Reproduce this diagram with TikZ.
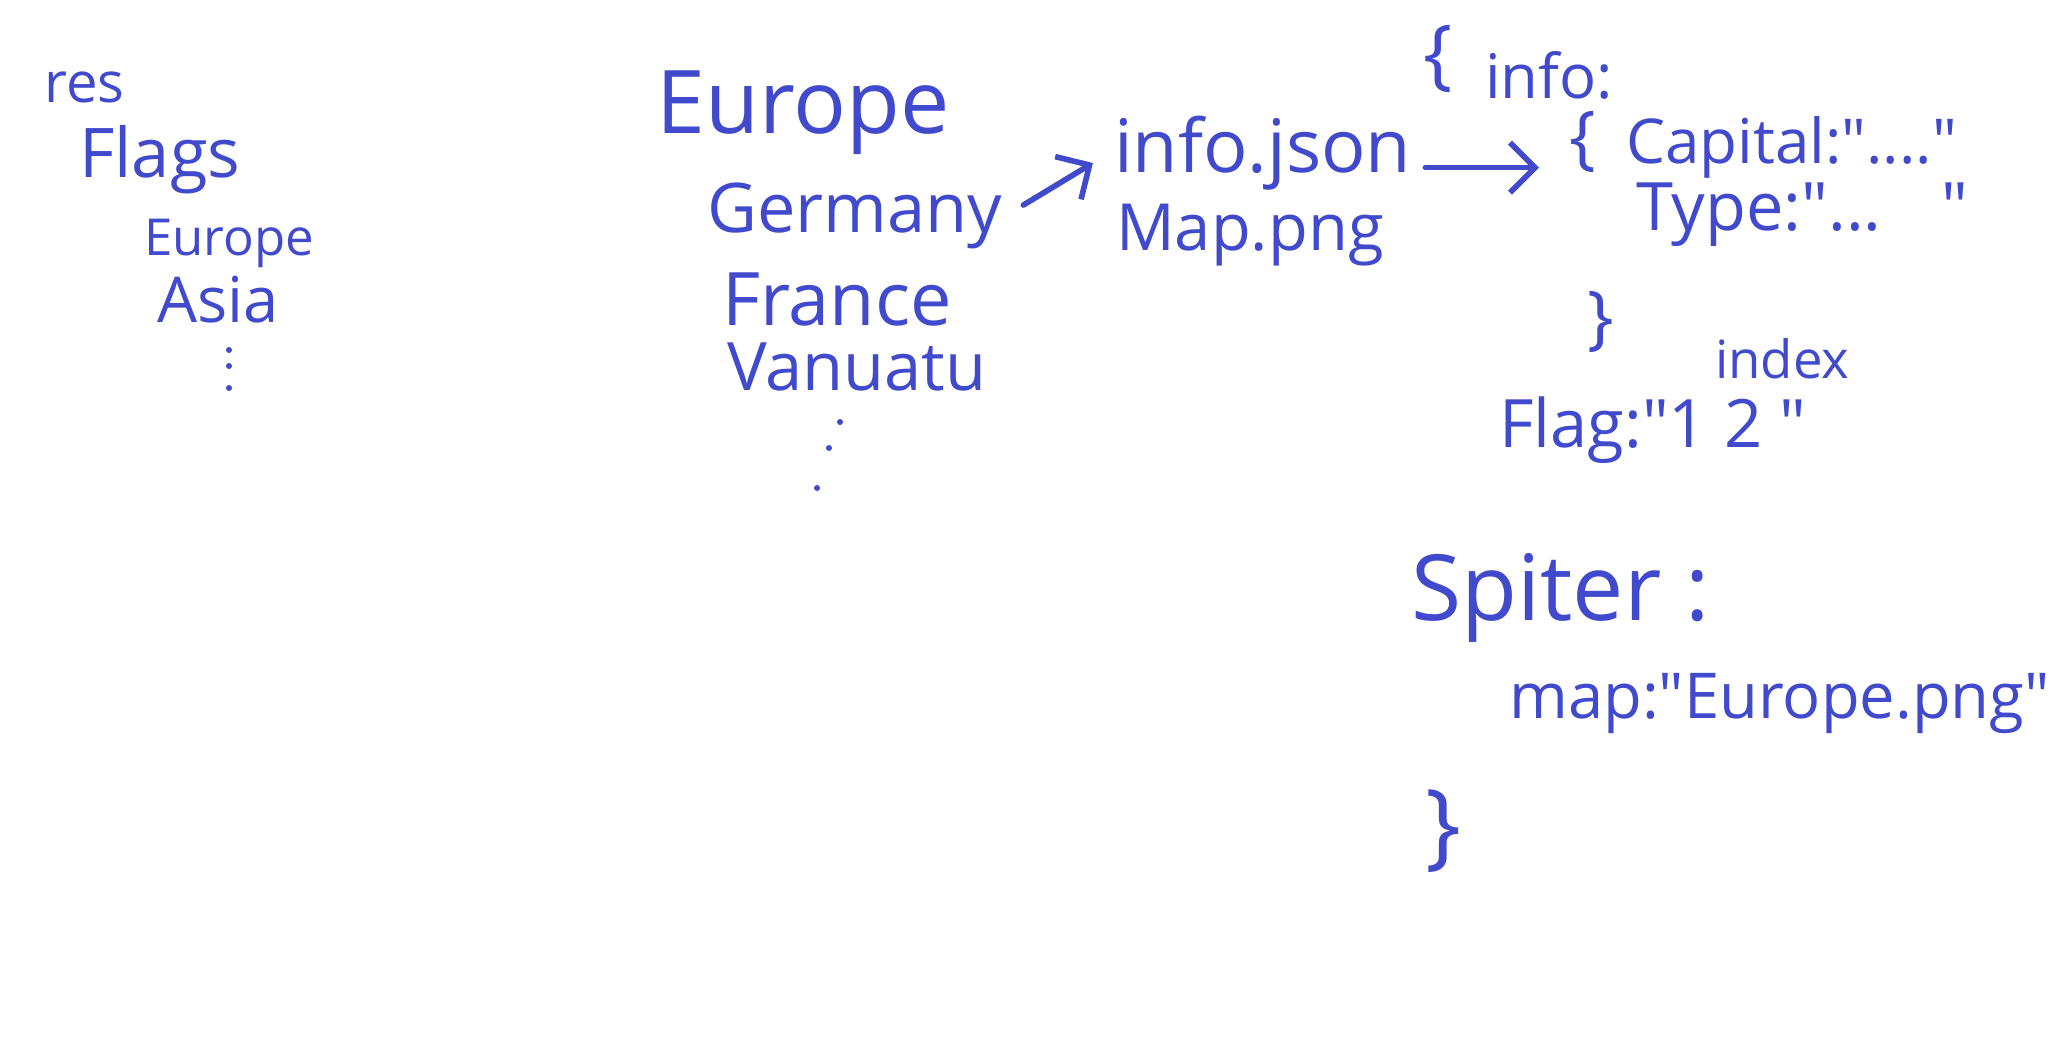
\documentclass[tikz,border=0pt]{standalone}
\usepackage{fontspec}
\setmainfont{Open Sans}[Ligatures=TeXOff]
\usepackage{tikz}
\usetikzlibrary{arrows.meta}
\definecolor{inkblue}{RGB}{65, 74, 205}
\newcommand{\handsize}[1]{\fontsize{#1}{#1}\selectfont}
\tikzset{
  hand/.style={text=inkblue, inner sep=1pt, anchor=base west},
  brace/.style={text=inkblue, inner sep=0pt},
  inkarrow/.style={draw=inkblue, line width=1.6pt, line cap=round, -{Straight Barb[length=2.5mm, width=5mm]}}
}

\begin{document}
\begin{tikzpicture}
  \useasboundingbox (0,0) rectangle (20.56,-10.42);

  % Folder tree
  \node[hand, font=\handsize{16}] (res) at (0.40,-1.02) {res};
  \node[hand, font=\handsize{19.5}] (flags) at (0.75,-1.77) {Flags};
  \node[hand, font=\handsize{14.5}] (flagseurope) at (1.40,-2.55) {Europe};
  \node[hand, font=\handsize{18}] (flagsasia) at (1.53,-3.22) {Asia};
  \foreach \y in {3.50,3.66,3.88} \fill[inkblue] (2.29,-\y) circle (0.03);

  % Continent folder
  \node[hand, font=\handsize{25}] (europe) at (6.52,-1.33) {Europe};
  \node[hand, font=\handsize{19.5}] (germany) at (7.03,-2.32) {Germany};
  \node[hand, font=\handsize{21}] (france) at (7.18,-3.25) {France};
  \node[hand, font=\handsize{19}] (vanuatu) at (7.23,-3.90) {Vanuatu};
  \fill[inkblue] (8.40,-4.22) circle (0.03);
  \fill[inkblue] (8.29,-4.48) circle (0.03);
  \fill[inkblue] (8.17,-4.88) circle (0.03);

  % Country folder
  \node[hand, font=\handsize{21}] (infojson) at (11.10,-1.72) {info.json};
  \node[hand, font=\handsize{18.5}] (mappng) at (11.12,-2.50) {Map.png};
  \draw[inkarrow, shorten <=2mm, shorten >=2mm] (germany.east) -- (infojson.west);

  % Content of info.json
  \node[brace, font=\handsize{22}] (openinfo) at (14.38,-0.59) {\{};
  \node[hand, font=\handsize{17.5}] (info) at (14.81,-0.98) {info:};
  \node[brace, font=\handsize{20}] (opencap) at (15.83,-1.42) {\{};
  \node[hand, font=\handsize{17.6}] (capital) at (16.22,-1.63) {Capital:"...."};
  \node[hand, font=\handsize{19}] (type) at (16.32,-2.30) {Type:"...\hspace{0.6cm}"};
  \node[brace, font=\handsize{20}] (closecap) at (16.01,-3.22) {\}};
  \draw[inkarrow, shorten <=1mm, shorten >=3mm] ([yshift=-1.5mm]infojson.east) -- ([yshift=-1.5mm]infojson.east -| opencap.west);

  \node[hand, font=\handsize{15}] (index) at (17.11,-3.78) {index};
  \node[hand, font=\handsize{19}] (flag) at (14.95,-4.47) {Flag:"1 2 "};

  \node[hand, font=\handsize{26}] (spiter) at (14.07,-6.20) {Spiter :};
  \node[hand, font=\handsize{18}] (map) at (15.05,-7.18) {map:"Europe.png"};
  \node[brace, font=\handsize{27}] (closeinfo) at (14.43,-8.31) {\}};
\end{tikzpicture}
\end{document}
